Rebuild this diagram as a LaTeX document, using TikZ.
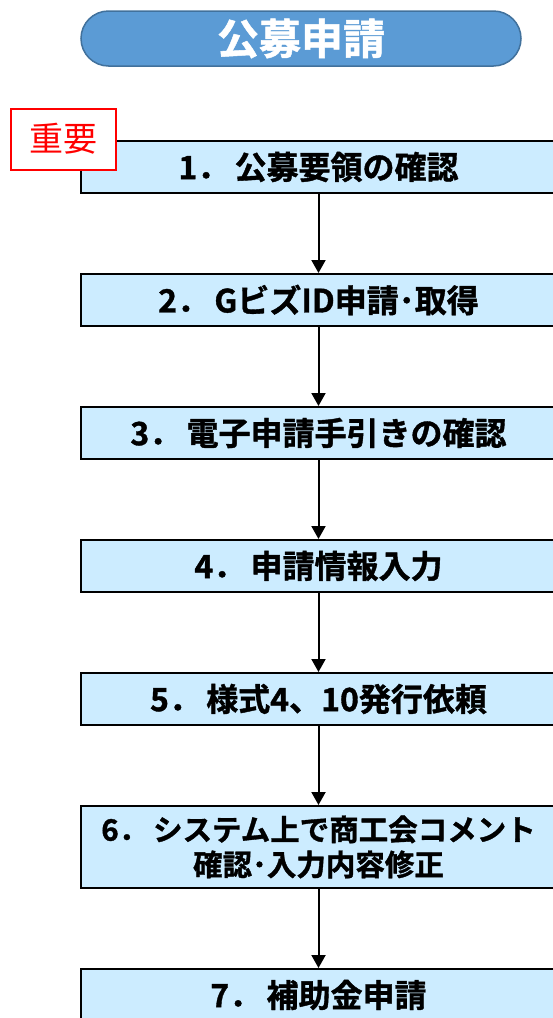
\documentclass[tikz,border=0pt]{standalone}
\usepackage{fontspec}
\setmainfont{Noto Sans CJK JP}[BoldFont={Noto Sans CJK JP Bold}, BoldFeatures={FakeBold=1.2}]
\usepackage{tikz}
\usetikzlibrary{arrows.meta}
\usetikzlibrary{positioning}
\definecolor{titleBlue}{HTML}{5B9BD5}
\definecolor{titleEdge}{HTML}{41719C}
\definecolor{stepFill}{HTML}{CCECFF}
\definecolor{markRed}{HTML}{FF0000}

\begin{document}
\begin{tikzpicture}[
    x=1pt, y=1pt,
    node distance=79pt,
    titleBox/.style={
        rectangle, draw=titleEdge, fill=titleBlue,
        line width=1.5pt, rounded corners=27.5pt,
        minimum width=440pt, minimum height=55pt,
        text=white, font=\fontsize{42}{48}\selectfont\bfseries
    },
    stepBox/.style={
        rectangle, draw, fill=stepFill, line width=2pt,
        minimum width=475pt, minimum height=52pt,
        font=\fontsize{32}{36}\selectfont\bfseries,
        align=center
    },
    importantBox/.style={
        rectangle, draw=markRed, fill=white, line width=2pt,
        minimum width=105pt, minimum height=61pt,
        text=markRed, font=\fontsize{34}{38}\selectfont
    },
    flowArrow/.style={
        -{Triangle[length=13pt, width=14pt]}, line width=2pt
    }
]
\useasboundingbox (0,0) rectangle (552,-1018);
\node[titleBox] (title) at (301,-38.5) {公募申請};
\node[stepBox] (guide) at (318.5,-167) {1．\,公募要領の確認};
\node[stepBox, below=of guide] (gbiz) {2．\,GビズID申請･取得};
\node[stepBox, below=of gbiz] (manual) {3．\,電子申請手引きの確認};
\node[stepBox, below=of manual] (entry) {4．\,申請情報入力};
\node[stepBox, below=of entry] (issue) {5．\,様式4、10発行依頼};
\node[stepBox, minimum height=82pt, font=\fontsize{29.5}{35}\selectfont\bfseries,
    below=of issue] (comment) {6．\,システム上で商工会コメント\\確認･入力内容修正};
\node[stepBox, below=of comment] (submit) {7．\,補助金申請};
\node[importantBox] (important) at (63.5,-139) {重要};
\draw[flowArrow] (guide) -- (gbiz);
\draw[flowArrow] (gbiz) -- (manual);
\draw[flowArrow] (manual) -- (entry);
\draw[flowArrow] (entry) -- (issue);
\draw[flowArrow] (issue) -- (comment);
\draw[flowArrow] (comment) -- (submit);
\end{tikzpicture}
\end{document}
